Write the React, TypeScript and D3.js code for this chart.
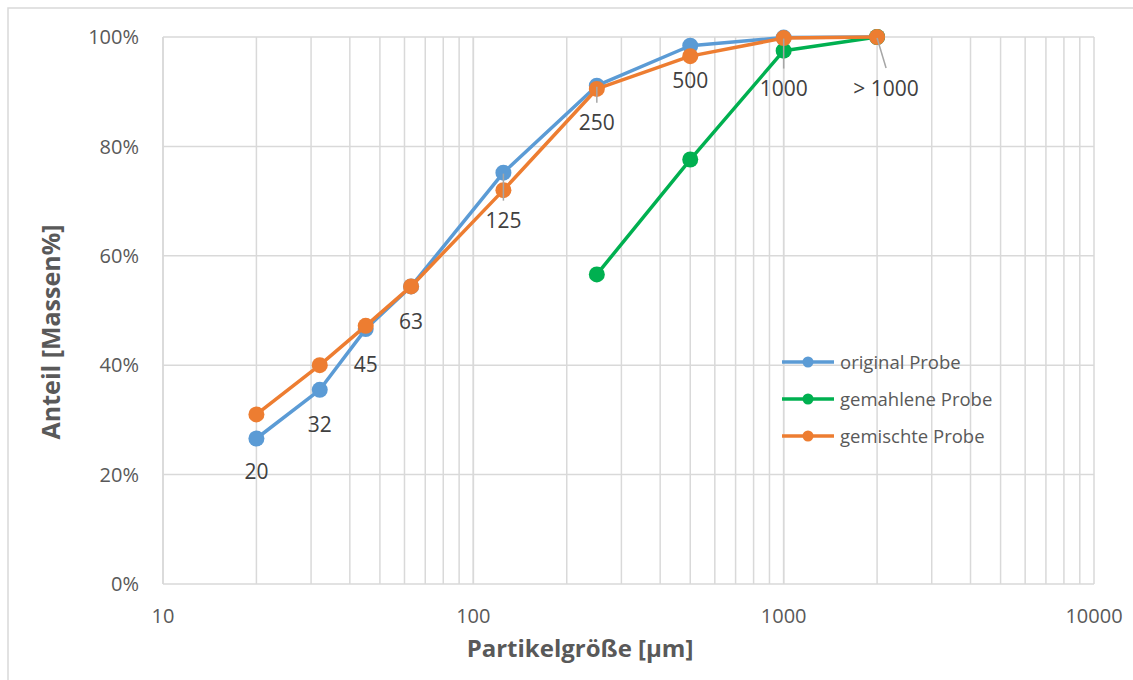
import React from "react";
import * as d3 from "d3";

// Particle size classes (µm); ">1000" is plotted at 2000
const sizes = [20, 32, 45, 63, 125, 250, 500, 1000, 2000];
const sizeLabels = ["20", "32", "45", "63", "125", "250", "500", "1000", "> 1000"];

// Cumulative mass fraction passing (%)
const originalProbe = [26.6, 35.5, 46.6, 54.4, 75.2, 91.1, 98.4, 99.9, 100];
const gemischteProbe = [31.0, 40.0, 47.2, 54.4, 72.0, 90.5, 96.5, 99.8, 100];
const gemahleneSizes = [250, 500, 1000, 2000];
const gemahleneProbe = [56.6, 77.6, 97.5, 100];

const xTicks = [10, 100, 1000, 10000];
const yTicks = [0, 20, 40, 60, 80, 100];

const W = 1133;
const H = 680;
const FONT = "'Open Sans', 'Liberation Sans', sans-serif";

const x = d3.scaleLog().domain([10, 10000]).range([163, 1094]);
const y = d3.scaleLinear().domain([0, 100]).range([584, 37]);

const series = [
  { name: "original Probe", color: "#5b9bd5", xs: sizes, ys: originalProbe },
  { name: "gemahlene Probe", color: "#00b050", xs: gemahleneSizes, ys: gemahleneProbe },
  { name: "gemischte Probe", color: "#ed7d31", xs: sizes, ys: gemischteProbe },
];

// Data label placement relative to the "original Probe" point (pixels)
const labelOffsets: [number, number, boolean][] = [
  [0, 33, false],
  [0, 35, false],
  [0, 35, false],
  [0, 35, false],
  [0, 48, true],
  [0, 37, true],
  [0, 35, false],
  [0, 51, true],
  [9, 51, true],
];

export default function App() {
  const line = d3
    .line<[number, number]>()
    .x((d) => x(d[0]))
    .y((d) => y(d[1]));

  const minorTicks: number[] = [];
  for (let dec = 10; dec < 10000; dec *= 10) {
    for (let k = 1; k <= 10; k++) minorTicks.push(dec * k);
  }

  return (
    <svg
      width={W}
      height={H}
      style={{ position: "absolute", left: 0, top: 0, background: "#fff" }}
      fontFamily={FONT}
    >
      {/* chart frame */}
      <rect x={8} y={8} width={W + 20} height={H + 20} fill="#fff" stroke="#d9d9d9" strokeWidth={1.5} />

      {/* vertical gridlines */}
      {minorTicks.map((t, i) => (
        <line key={"vx" + i} x1={x(t)} x2={x(t)} y1={y(0)} y2={y(100)} stroke="#d9d9d9" strokeWidth={1.5} />
      ))}
      {/* horizontal gridlines */}
      {yTicks.map((t) => (
        <line key={"hy" + t} x1={x(10)} x2={x(10000)} y1={y(t)} y2={y(t)} stroke="#d9d9d9" strokeWidth={1.5} />
      ))}
      <line x1={x(10)} x2={x(10)} y1={y(0)} y2={y(100)} stroke="#d9d9d9" strokeWidth={1.5} />

      {/* y tick labels */}
      {yTicks.map((t) => (
        <text key={"yl" + t} x={139} y={y(t)} dy="0.36em" textAnchor="end" fontSize={20} fill="#595959">
          {t + "%"}
        </text>
      ))}
      {/* x tick labels */}
      {xTicks.map((t) => (
        <text key={"xl" + t} x={x(t)} y={616} dy="0.36em" textAnchor="middle" fontSize={20} fill="#595959">
          {t}
        </text>
      ))}

      {/* axis titles */}
      <text x={580} y={648} dy="0.36em" textAnchor="middle" fontSize={24} fontWeight="bold" fill="#595959">
        Partikelgröße [µm]
      </text>
      <text
        transform={`translate(51,332) rotate(-90)`}
        dy="0.36em"
        textAnchor="middle"
        fontSize={25}
        fontWeight="bold"
        fill="#595959"
      >
        Anteil [Massen%]
      </text>

      {/* series: blue, green, then orange on top */}
      {series.map((s) => {
        const pts = s.xs.map((v, i) => [v, s.ys[i]] as [number, number]);
        return (
          <g key={s.name}>
            <path d={line(pts) || ""} fill="none" stroke={s.color} strokeWidth={3.5} strokeLinejoin="round" />
            {pts.map((p, i) => (
              <circle key={i} cx={x(p[0])} cy={y(p[1])} r={8} fill={s.color} />
            ))}
          </g>
        );
      })}

      {/* data labels with leader lines */}
      {sizes.map((sz, i) => {
        const px = x(sz);
        const py = y(originalProbe[i]);
        const [dx, dy, leader] = labelOffsets[i];
        const lx = px + dx;
        const ly = py + dy;
        return (
          <g key={"dl" + i}>
            {leader && (
              <line x1={px} y1={py + 1} x2={lx} y2={ly - 20} stroke="#a6a6a6" strokeWidth={1.5} />
            )}
            <text x={lx} y={ly} dy="0.36em" textAnchor="middle" fontSize={21} fill="#404040">
              {sizeLabels[i]}
            </text>
          </g>
        );
      })}

      {/* legend */}
      {series.map((s, i) => {
        const ly = 362 + i * 37;
        return (
          <g key={"lg" + i}>
            <line x1={782} x2={834} y1={ly} y2={ly} stroke={s.color} strokeWidth={3.5} />
            <circle cx={808} cy={ly} r={5.5} fill={s.color} />
            <text x={840} y={ly} dy="0.36em" fontSize={18.5} fill="#595959">
              {s.name}
            </text>
          </g>
        );
      })}
    </svg>
  );
}
